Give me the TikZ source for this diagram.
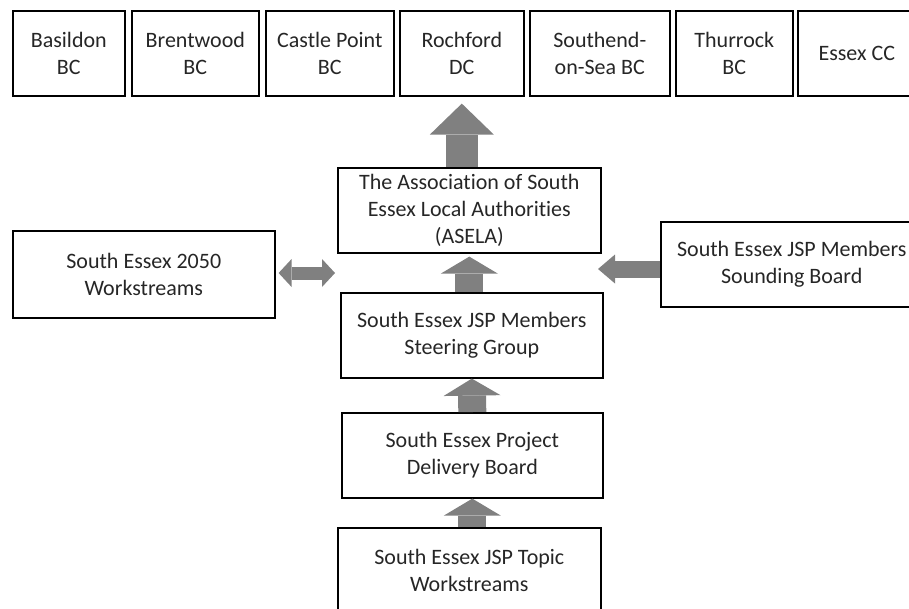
\documentclass[tikz,border=0pt]{standalone}
\usepackage{fontspec}
\setmainfont{Carlito}[Ligatures=CommonOff]
\usetikzlibrary{arrows.meta}
\definecolor{flowgrey}{RGB}{128,128,128}
\begin{document}
\begin{tikzpicture}[
x=1pt, y=-1pt,
council/.style={draw, line width=1.6pt, anchor=north west, minimum height=85pt, inner sep=1pt, align=center, font=\fontsize{22}{27}\selectfont, text=black!85},
lift/.style={draw=flowgrey, line width=28pt, -{Triangle[width=57pt,length=17pt,line width=0pt]}},
twoway/.style={draw=flowgrey, line width=13pt, {Triangle[width=28pt,length=13pt,line width=0pt]}-{Triangle[width=28pt,length=13pt,line width=0pt]}}]
\useasboundingbox (0,0) rectangle (909,608);
\clip (0,0) rectangle (909,608);
\node[council, minimum width=112pt] (basildon) at (12,10) {Basildon\\BC};
\node[council, minimum width=127pt] (brentwood) at (131,10) {Brentwood\\BC};
\node[council, minimum width=128pt] (castlepoint) at (265,10) {Castle Point\\BC};
\node[council, minimum width=124pt] (rochford) at (399,10) {Rochford\\DC};
\node[council, minimum width=140pt] (southend) at (529,10) {Southend-\\on-Sea BC};
\node[council, minimum width=117pt] (thurrock) at (675,10) {Thurrock\\BC};
\node[council, minimum width=118pt] (essex) at (797,10) {Essex CC};
\node[council, minimum width=263pt] (asela) at (337,167) {The Association of South\\Essex Local Authorities\\(ASELA)};
\node[council, minimum width=262pt, minimum height=87pt] (vision) at (12,230) {South Essex 2050\\Workstreams};
\node[council, minimum width=262pt] (sounding) at (660,221) {South Essex JSP Members\\Sounding Board};
\node[council, minimum width=262pt] (steering) at (340,292) {South Essex JSP Members\\Steering Group};
\node[council, minimum width=261pt] (delivery) at (341,412) {South Essex Project\\Delivery Board};
\node[council, minimum width=263pt] (topic) at (337,527) {South Essex JSP Topic\\Workstreams};
\coordinate (gapL) at (335,273);
\coordinate (gapR) at (598,269);
\draw[lift, line width=32pt, -{Triangle[width=64pt,length=31pt,line width=0pt]}, shorten >=7pt] (asela.north -| rochford) -- (rochford.south);
\draw[lift, shorten >=3pt] (steering.north -| asela) -- (asela.south);
\draw[lift] (delivery.north) -- (steering.south);
\draw[lift] (topic.north -| delivery) -- (delivery.south);
\draw[twoway, shorten <=3pt] (vision.east |- gapL) -- (gapL);
\draw[lift, line width=17pt, -{Triangle[width=29pt,length=17pt,line width=0pt]}] (sounding.west |- gapR) -- (gapR);
\end{tikzpicture}
\end{document}
